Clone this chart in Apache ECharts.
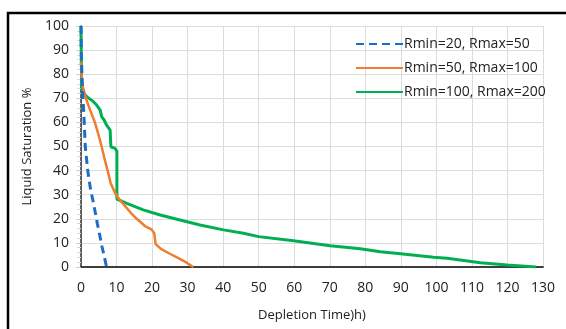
<!DOCTYPE html>
<html>
<head>
<meta charset="utf-8">
<title>Liquid saturation vs depletion time</title>
<script src="https://cdn.jsdelivr.net/npm/echarts@6/dist/echarts.min.js"></script>
<style>
  html, body { margin: 0; padding: 0; background: #fff; }
  #chart { width: 566px; height: 329px; }
</style>
</head>
<body>
<div id="chart"></div>
<script>
// values (x = hours, y = %)
const seriesNames = ['Rmin=20, Rmax=50', 'Rmin=50, Rmax=100', 'Rmin=100, Rmax=200']

const small = [
  [0, 100], [0.1, 88], [0.3, 78], [0.5, 72], [0.7, 66], [0.9, 60], [1.2, 50],
  [1.9, 40], [2.7, 32], [3.3, 28], [4.1, 22], [4.6, 18], [5.3, 13], [5.9, 8.5],
  [6.6, 4], [7.2, 0]
]

const medium = [
  [0, 85], [0.2, 79], [0.5, 75], [1.4, 70], [2.6, 65], [3.9, 60], [4.9, 55],
  [5.8, 50], [6.6, 45], [7.5, 40], [8.3, 35], [9.2, 32], [10, 29.5], [12, 26],
  [14, 22.5], [15.7, 20], [18, 17], [19.9, 15.5], [20.6, 14], [21, 9.5],
  [22.5, 7.5], [25, 5.5], [27, 4], [29.5, 2], [31.6, 0]
]

const large = [
  [0, 100], [0.1, 85], [0.2, 74.8], [0.8, 72], [1.6, 70.7], [3.5, 68.6],
  [4.4, 67.2], [5.4, 65.1], [5.8, 62.4], [6.5, 61], [7.2, 58.9], [8.2, 56.8],
  [8.4, 49.9], [9.6, 49.2], [10.1, 48], [10.1, 28.2], [12.9, 26.4],
  [17.5, 23.7], [22.3, 21.6], [27, 19.8], [33.5, 17.4], [40.1, 15.4],
  [45.7, 14], [50, 12.6], [59.8, 10.9], [70.1, 8.8], [78.6, 7.6], [84.2, 6.3],
  [89.9, 5.5], [99.2, 4], [103, 3.6], [112.4, 1.8], [119.9, 0.8], [128, 0]
]

const xTicks = { min: 0, max: 130, step: 10 }
const yTicks = { min: 0, max: 100, step: 10 }

const colors = {
  blue: '#1a6fc4',
  orange: '#ee7d31',
  green: '#00b050',
  grid: '#dcdcdc',
  text: '#222'
}

const font = '"Open Sans", "Liberation Sans", sans-serif'

const chart = echarts.init(document.getElementById('chart'))

chart.setOption({
  backgroundColor: '#fff',
  animation: false,
  textStyle: { fontFamily: font },
  grid: { left: 81, top: 26, right: 23, bottom: 62 },
  graphic: [
    {
      // outer frame, runs off the bottom/right of the picture
      type: 'rect',
      shape: { x: 8, y: 13, width: 700, height: 500 },
      style: { fill: 'none', stroke: '#000', lineWidth: 2.5 },
      z: 100
    }
  ],
  legend: {
    orient: 'vertical',
    left: 350,
    top: 32,
    itemWidth: 47,
    itemHeight: 10,
    itemGap: 10,
    itemStyle: { opacity: 0 },
    textStyle: { fontFamily: font, fontSize: 14, color: colors.text, padding: [0, 0, 0, -4] },
    data: seriesNames
  },
  xAxis: [
    {
      type: 'value',
      min: xTicks.min,
      max: xTicks.max,
      interval: xTicks.step,
      name: 'Depletion Time)h)',
      nameLocation: 'middle',
      nameGap: 42,
      nameTextStyle: { fontSize: 13, color: colors.text, fontFamily: font },
      axisLine: { onZero: false, lineStyle: { color: '#333', width: 1.5 } },
      axisTick: { show: false },
      axisLabel: { fontSize: 14, color: colors.text, margin: 14, fontFamily: font },
      splitLine: { show: true, lineStyle: { color: colors.grid, width: 1 } }
    },
    {
      type: 'value',
      position: 'top',
      min: xTicks.min,
      max: xTicks.max,
      axisLine: { lineStyle: { color: '#333', width: 1.5 } },
      axisTick: { show: false },
      axisLabel: { show: false },
      splitLine: { show: false }
    }
  ],
  yAxis: [
    {
      type: 'value',
      min: yTicks.min,
      max: yTicks.max,
      interval: yTicks.step,
      name: 'Liquid Saturation %',
      nameLocation: 'middle',
      nameGap: 44,
      nameTextStyle: { fontSize: 13, color: colors.text, fontFamily: font },
      axisLine: { show: true, lineStyle: { color: '#d0d0d0', width: 1 } },
      axisTick: { show: true, length: 5, lineStyle: { color: '#d0d0d0' } },
      minorTick: { show: true, splitNumber: 5, length: 4, lineStyle: { color: '#d8d8d8' } },
      axisLabel: { fontSize: 14, color: colors.text, margin: 12, fontFamily: font },
      splitLine: { show: true, lineStyle: { color: colors.grid, width: 1 } }
    },
    {
      type: 'value',
      position: 'right',
      min: yTicks.min,
      max: yTicks.max,
      axisLine: { show: true, lineStyle: { color: '#333', width: 1.5 } },
      axisTick: { show: false },
      axisLabel: { show: false },
      splitLine: { show: false }
    }
  ],
  series: [
    {
      name: seriesNames[0],
      type: 'line',
      symbol: 'none',
      z: 4,
      itemStyle: { color: colors.blue },
      lineStyle: { color: colors.blue, width: 3, type: [8, 5] },
      data: small
    },
    {
      name: seriesNames[1],
      type: 'line',
      symbol: 'none',
      z: 3,
      itemStyle: { color: colors.orange },
      lineStyle: { color: colors.orange, width: 2.5 },
      data: medium
    },
    {
      name: seriesNames[2],
      type: 'line',
      symbol: 'none',
      z: 2,
      itemStyle: { color: colors.green },
      lineStyle: { color: colors.green, width: 3 },
      data: large
    }
  ]
})
</script>
</body>
</html>
